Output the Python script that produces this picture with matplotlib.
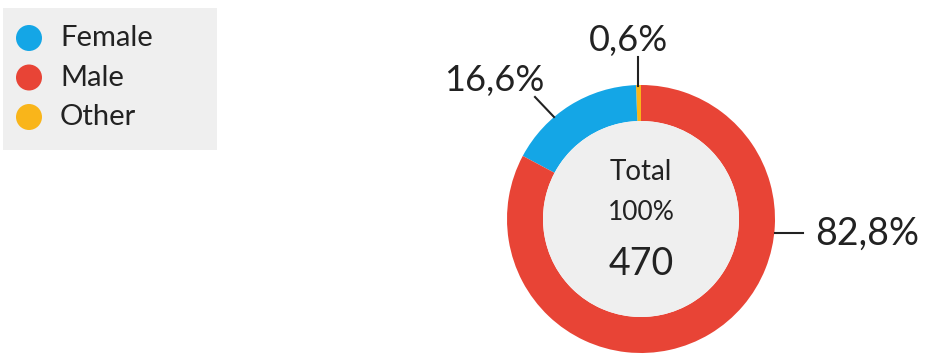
import matplotlib.pyplot as plt
from matplotlib.patches import Rectangle, Circle

plt.rcParams['font.family'] = ['Lato', 'DejaVu Sans']

# data
labels = ['Female', 'Male', 'Other']
shares = [16.6, 82.8, 0.6]
colors = ['#14a6e6', '#e84436', '#f9b51a']
total = 470

W, H = 926, 354
fig = plt.figure(figsize=(W / 100, H / 100), dpi=100)
ax = fig.add_axes([0, 0, 1, 1])
ax.set_xlim(0, W)
ax.set_ylim(0, H)
ax.set_aspect('equal')
ax.axis('off')

# donut, drawn counterclockwise from 12 o'clock: Other, Female, Male
order = [2, 0, 1]
cx, cy, r_out, width = 641, H - 219, 134, 36
wedges, _ = ax.pie([shares[i] for i in order], colors=[colors[i] for i in order],
                   startangle=90, counterclock=True, center=(cx, cy), radius=r_out,
                   wedgeprops=dict(width=width, linewidth=0), frame=True)
ax.set_xlim(0, W)
ax.set_ylim(0, H)
ax.axis('off')
ax.add_patch(Circle((cx, cy), r_out - width, facecolor='#efefef', edgecolor='none'))

ink = '#222222'
ax.text(cx, H - 172, 'Total', ha='center', va='center', fontsize=20, color=ink)
ax.text(cx, H - 213, '100%', ha='center', va='center', fontsize=19, color=ink)
ax.text(cx, H - 264, str(total), ha='center', va='center', fontsize=27, color=ink)

# percentage call-outs
def pct(v):
    return ('%.1f%%' % v).replace('.', ',')

ax.plot([638, 638], [H - 57, H - 86], color=ink, lw=1.5)
ax.text(628, H - 40, pct(shares[2]), ha='center', va='center', fontsize=26, color=ink)
ax.plot([535, 554], [H - 97, H - 117], color=ink, lw=1.5)
ax.text(494, H - 80, pct(shares[0]), ha='center', va='center', fontsize=26, color=ink)
ax.plot([775, 803], [H - 233, H - 233], color=ink, lw=1.5)
ax.text(867, H - 234, pct(shares[1]), ha='center', va='center', fontsize=27, color=ink)

# legend box
ax.add_patch(Rectangle((3, H - 150), 214, 142, facecolor='#efefef', edgecolor='none'))
for i, (lab, col) in enumerate(zip(labels, colors)):
    y = H - (38 + 39.5 * i)
    ax.add_patch(Circle((29, y), 13, facecolor=col, edgecolor='none'))
    ax.text(60, y, lab, ha='left', va='center', fontsize=21, color=ink)

fig.savefig('out.png', dpi=100, facecolor='white')
